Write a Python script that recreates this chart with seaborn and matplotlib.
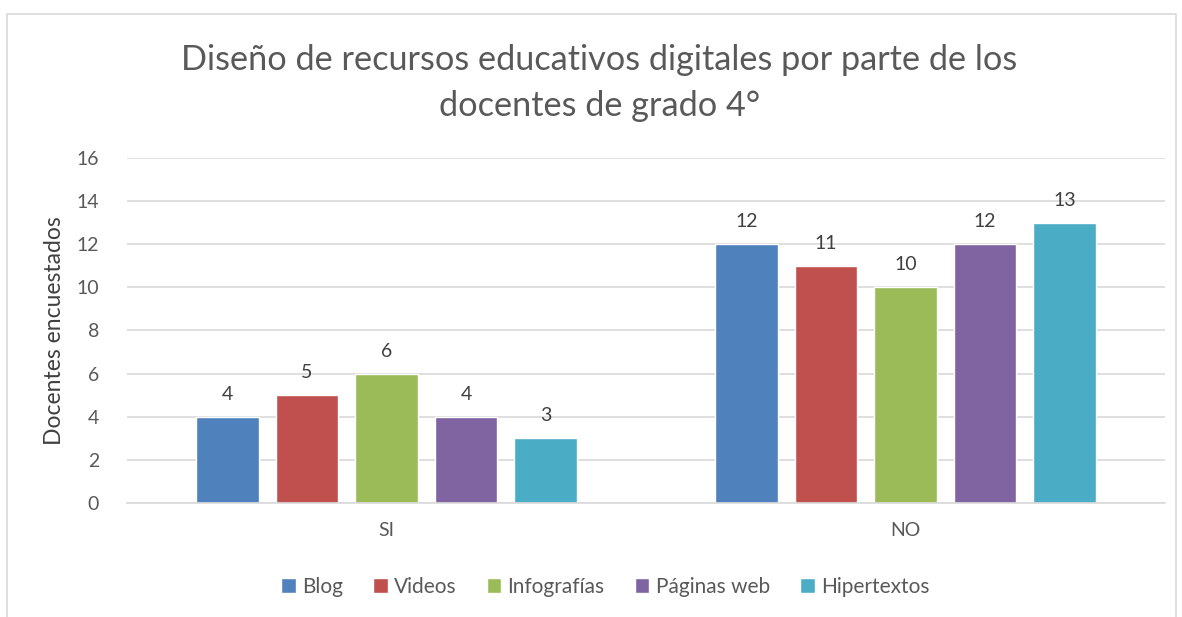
import pandas as pd
import seaborn as sns
import matplotlib.pyplot as plt
from matplotlib.patches import Rectangle

# datos
respuestas = ['SI', 'NO']
recursos = ['Blog', 'Videos', 'Infografías', 'Páginas web', 'Hipertextos']
valores_si = [4, 5, 6, 4, 3]
valores_no = [12, 11, 10, 12, 13]
colores = ['#4F81BD', '#C0504D', '#9BBB59', '#8064A2', '#4BACC6']

df = pd.DataFrame({
    'respuesta': [r for r in respuestas for _ in recursos],
    'recurso': recursos * 2,
    'docentes': valores_si + valores_no,
})

sns.set_theme(style='white')
plt.rcParams['font.family'] = ['Lato', 'DejaVu Sans']
gris = '#595959'

fig = plt.figure(figsize=(11.82, 6.17), dpi=100)
fig.patches.append(Rectangle((7 / 1182, -0.1), 1169 / 1182, 1.1 - 14 / 617,
                             transform=fig.transFigure, fill=False,
                             edgecolor='#D9D9D9', linewidth=1.2))
ax = fig.add_axes([0.1074, 0.1848, 0.8782, 0.5591])

sns.barplot(data=df, x='respuesta', y='docentes', hue='recurso',
            palette=colores, width=0.766, gap=0.21, saturation=1,
            ax=ax, legend=True)

for cont in ax.containers:
    ax.bar_label(cont, padding=10, fontsize=14, color='#404040')

ax.set_ylim(0, 16)
ax.set_yticks(range(0, 17, 2))
ax.yaxis.grid(True, color='#D9D9D9', linewidth=1.2)
ax.set_axisbelow(True)
for s in ['top', 'right', 'left']:
    ax.spines[s].set_visible(False)
ax.spines['bottom'].set_color('#D9D9D9')
ax.spines['bottom'].set_linewidth(1.2)
ax.tick_params(axis='both', length=0, labelsize=14, colors=gris)
ax.tick_params(axis='x', pad=14)
ax.tick_params(axis='y', pad=20)
ax.set_xlabel('')
ax.set_ylabel('Docentes encuestados', fontsize=16.5, color='#404040', labelpad=8)

fig.text(0.507, 0.866, 'Diseño de recursos educativos digitales por parte de los\ndocentes de grado 4°',
         ha='center', va='center', fontsize=24.7, color=gris, linespacing=1.55)

ax.legend(loc='center', bbox_to_anchor=(0.512, 0.049), bbox_transform=fig.transFigure,
          ncol=5, frameon=False, fontsize=15, handlelength=0.7, handleheight=0.7,
          handletextpad=0.3, columnspacing=1.45, labelcolor=gris)

fig.savefig('out.png', dpi=100)
